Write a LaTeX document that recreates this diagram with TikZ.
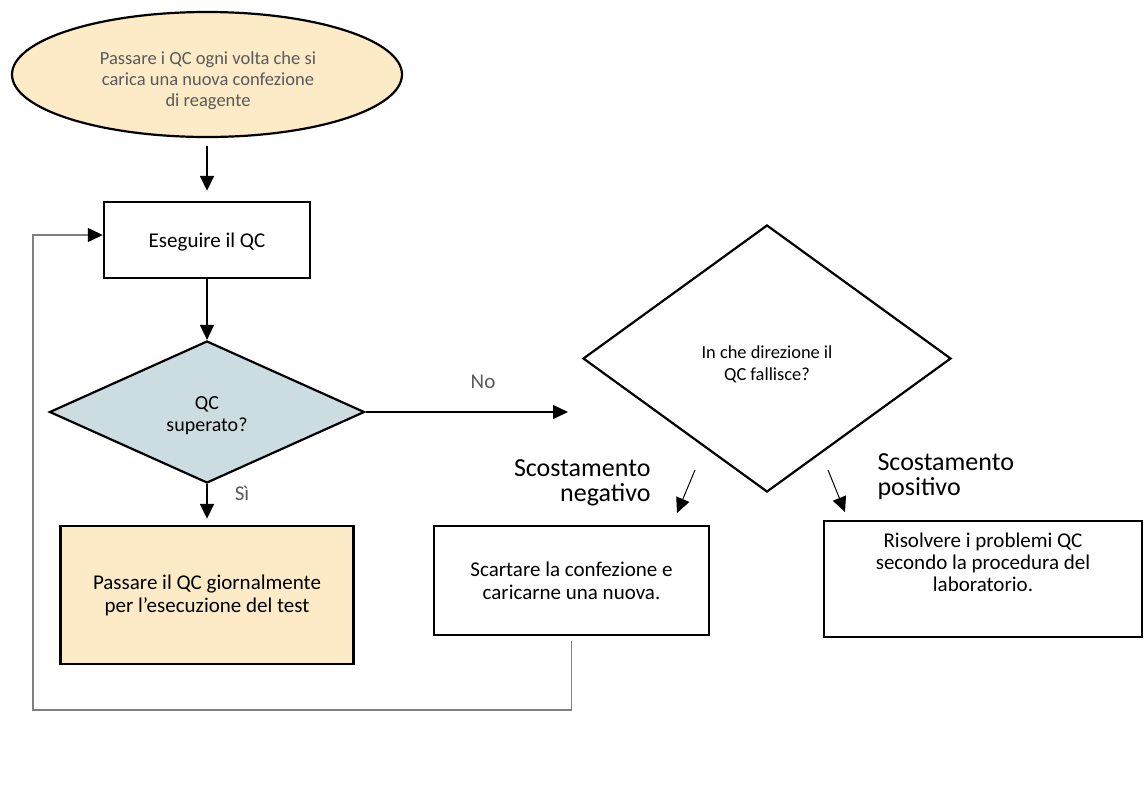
\documentclass[tikz,border=0pt]{standalone}
\usepackage{fontspec}
\setmainfont{Carlito}
\usetikzlibrary{shapes.geometric,arrows.meta}
\definecolor{cream}{HTML}{FCEBC6}
\definecolor{bluegray}{HTML}{CCDDE2}
\definecolor{txtgray}{HTML}{595959}
\definecolor{loopgray}{HTML}{808080}
\begin{document}
\begin{tikzpicture}[x=1pt,y=-1pt,
  box/.style={draw=black,line width=2.4pt,inner sep=0pt,align=center,font=\fontsize{21}{23}\selectfont},
  arr/.style={draw=black,line width=1.6pt,-{Triangle[length=15pt,width=14pt]}},
  thinarr/.style={draw=black,line width=1pt,-{Triangle[length=15pt,width=14pt]}},
  loopline/.style={draw=loopgray,line width=1.2pt,-{Triangle[length=15pt,width=14pt,color=black]}},
  lbl/.style={text=txtgray,font=\fontsize{21}{23}\selectfont},
  big/.style={font=\fontsize{26}{25}\selectfont},
  dia/.style={draw=black,line width=2.2pt,diamond,inner sep=0pt,aspect=1}]
\useasboundingbox (0,0) rectangle (1148,796);

% nodes
\node[draw=black,line width=2.2pt,ellipse,fill=cream,minimum width=390pt,minimum height=125pt,inner sep=0pt] (e) at (207,74.5) {};
\node[text=txtgray,align=center,font=\fontsize{18.5}{21}\selectfont] (et) at (208,81) {Passare i QC ogni volta che si\\carica una nuova confezione\\di reagente};

\node[box,minimum width=206pt,minimum height=76pt,text depth=0pt] (b1) at (207,240) {Eseguire il QC};

\node[dia,fill=bluegray,minimum width=315pt,minimum height=142pt] (d1) at (207,412) {};
\node[align=center,font=\fontsize{20}{22}\selectfont] (d1t) at (207,416) {QC\\superato?};

\node[box,fill=cream,minimum width=293pt,minimum height=138pt] (b2) at (207,595) {Passare il QC giornalmente\\per l’esecuzione del test};

\node[dia,minimum width=368pt,minimum height=267pt] (d2) at (767,358.5) {};
\node[align=center,font=\fontsize{18.4}{22}\selectfont] (d2t) at (767,364.5) {In che direzione il\\QC fallisce?};

\node[box,minimum width=275pt,minimum height=109pt] (b3) at (571.5,580.5) {Scartare la confezione e\\caricarne una nuova.};

\node[box,minimum width=318pt,minimum height=116pt] (b4) at (983,579) {};
\node[align=center,font=\fontsize{21}{22}\selectfont] (t4) at (983,562) {Risolvere i problemi QC\\secondo la procedura del\\laboratorio.};

% labels
\node[lbl] (no) at (483,382) {No};
\node[lbl] (si) at (242,493) {Sì};
\node[big,align=right,anchor=east] (neg) at (654,483) {Scostamento\\negativo};
\node[big,align=left,anchor=west] (pos) at (874,477) {Scostamento\\positivo};

% free ends
\coordinate (noend) at (568,412);
\coordinate (ns) at (695,470);
\coordinate (ne) at (677,513);
\coordinate (ps) at (828,470);
\coordinate (pe) at (845,512);
\coordinate (lc) at (33,710);

% connectors
\draw[arr] ([yshift=-8pt]e.south) -- ([yshift=10pt]b1.north);
\draw[arr] (b1.south) -- (d1.north);
\draw[arr] (d1.south) -- ([yshift=6pt]b2.north);
\draw[arr] (d1.east) -- (noend);
\draw[thinarr] (ns) -- (ne);
\draw[thinarr] (ps) -- (pe);
\draw[loopline] ([yshift=-5pt]b3.south) |- (lc) |- ([yshift=5pt]b1.west);
\end{tikzpicture}
\end{document}
